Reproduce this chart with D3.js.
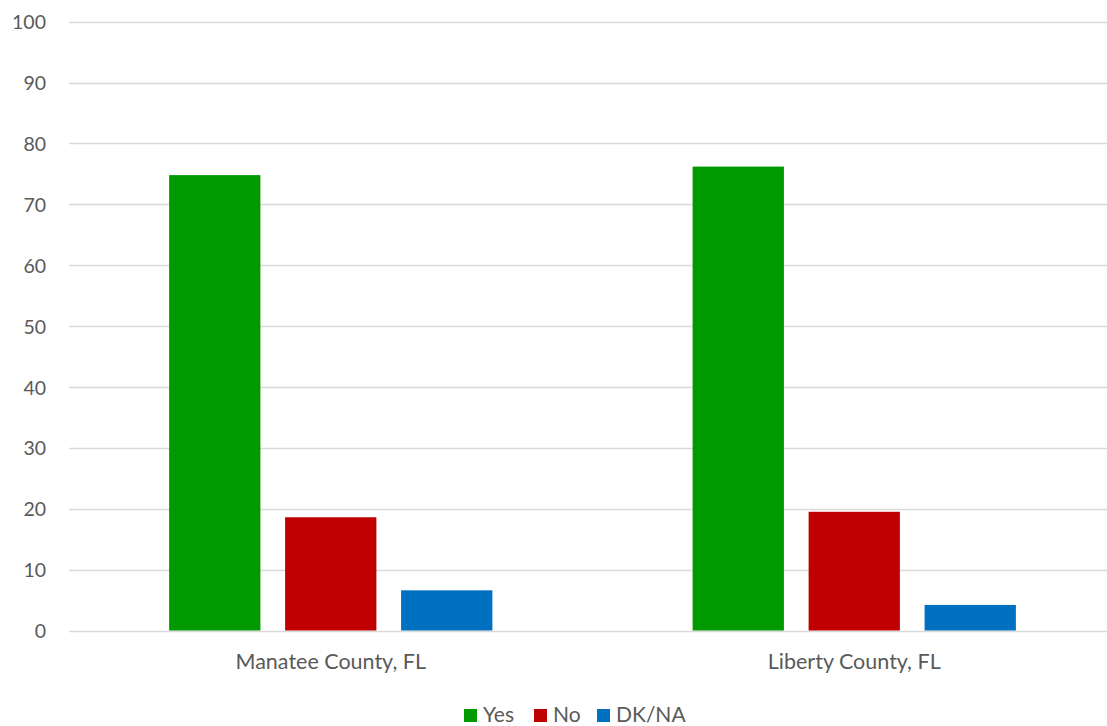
<!DOCTYPE html>
<html>
<head>
<meta charset="utf-8">
<script src="https://cdn.jsdelivr.net/npm/d3@7"></script>
<style>
  html, body { margin: 0; padding: 0; background: #fff; }
  svg { display: block; font-family: Lato, "Open Sans", sans-serif; }
</style>
</head>
<body>
<svg id="chart" width="1107" height="726"></svg>
<script>
const categories = ["Manatee County, FL", "Liberty County, FL"];
const seriesNames = ["Yes", "No", "DK/NA"];
const seriesColors = ["#009900", "#C00000", "#0070C0"];
const yesValues = [74.8, 76.2];
const noValues = [18.6, 19.5];
const dkValues = [6.6, 4.2];
const yTicks = [0, 10, 20, 30, 40, 50, 60, 70, 80, 90, 100];

const seriesValues = [yesValues, noValues, dkValues];
const data = categories.map((c, i) => ({
  category: c,
  values: seriesNames.map((s, j) => ({ series: s, value: seriesValues[j][i], color: seriesColors[j] }))
}));

const svg = d3.select("#chart");
const plotLeft = 69, plotRight = 1116, plotTop = 21.7, plotBottom = 630.5;
const textColor = "#595959";

const y = d3.scaleLinear().domain([0, 100]).range([plotBottom, plotTop]);
const x0 = d3.scaleBand().domain(categories).range([plotLeft, plotRight]).paddingInner(0).paddingOuter(0);
const bw = x0.bandwidth();
const groupW = bw * 0.6175;
const x1 = d3.scaleBand().domain(seriesNames)
  .range([(bw - groupW) / 2, (bw + groupW) / 2])
  .paddingInner(0.213).paddingOuter(0);

// gridlines
svg.append("g").selectAll("line").data(yTicks).join("line")
  .attr("x1", plotLeft).attr("x2", 1107)
  .attr("y1", d => Math.round(y(d)) + 0.5).attr("y2", d => Math.round(y(d)) + 0.5)
  .attr("stroke", "#d9d9d9").attr("stroke-width", 1.5);

// y axis labels
const yAxis = d3.axisLeft(y).tickValues(yTicks).tickSize(0).tickPadding(0);
const ya = svg.append("g").attr("transform", "translate(46,0)").call(yAxis);
ya.select(".domain").remove();
ya.selectAll("text").attr("fill", textColor).attr("font-size", 19.5)
  .attr("font-family", "Lato, 'Open Sans', sans-serif").attr("dy", "0.36em");

// bars
const groups = svg.append("g").selectAll("g").data(data).join("g")
  .attr("transform", d => `translate(${x0(d.category)},0)`);
groups.selectAll("rect").data(d => d.values).join("rect")
  .attr("x", d => x1(d.series))
  .attr("width", x1.bandwidth())
  .attr("y", d => y(d.value))
  .attr("height", d => y(0) - y(d.value))
  .attr("fill", d => d.color);

// x axis labels
const xAxis = d3.axisBottom(x0).tickSize(0).tickPadding(0);
const xa = svg.append("g").attr("transform", `translate(0,${plotBottom})`).call(xAxis);
xa.select(".domain").remove();
xa.selectAll("text").attr("fill", textColor).attr("font-size", 21.5)
  .attr("font-family", "Lato, 'Open Sans', sans-serif").attr("dy", null).attr("y", 38.5);

// legend
const legendX = [464, 534, 597];
const legend = svg.append("g").selectAll("g").data(seriesNames).join("g")
  .attr("transform", (d, i) => `translate(${legendX[i]},709)`);
legend.append("rect").attr("width", 13).attr("height", 13).attr("fill", (d, i) => seriesColors[i]);
legend.append("text").attr("x", 19).attr("y", 13.3).text(d => d)
  .attr("fill", textColor).attr("font-size", 21);
</script>
</body>
</html>
